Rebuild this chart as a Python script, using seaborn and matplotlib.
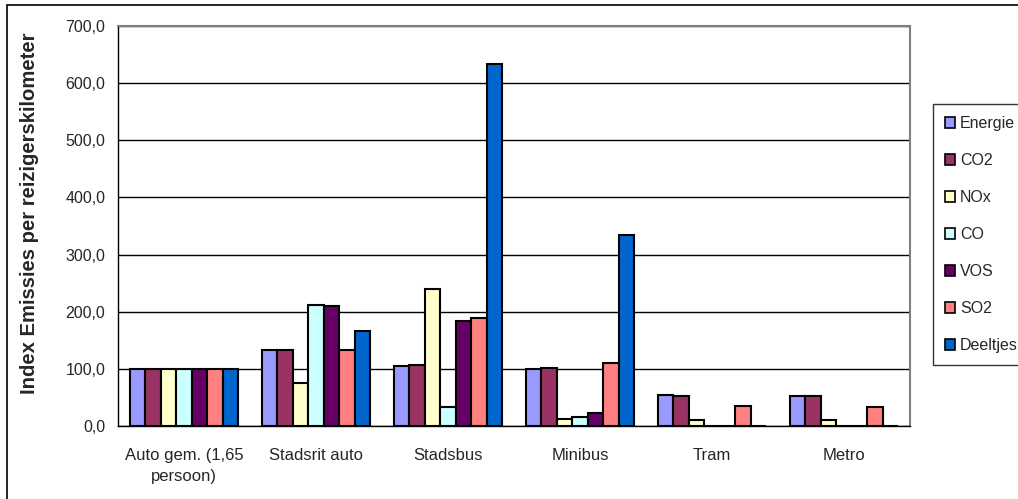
import matplotlib
matplotlib.use("Agg")
import matplotlib.pyplot as plt
from matplotlib.patches import Patch, Rectangle
from matplotlib.ticker import FuncFormatter, FixedLocator
import numpy as np
import pandas as pd
import seaborn as sns

# Vervoerswijzen en emissie-indices (auto = 100)
categories = ["Auto gem. (1,65\npersoon)", "Stadsrit auto", "Stadsbus", "Minibus", "Tram", "Metro"]
series = ["Energie", "CO2", "NOx", "CO", "VOS", "SO2", "Deeltjes"]

energie = [100, 133, 105, 100, 54, 53]
co2 = [100, 133, 107, 102, 53, 53]
nox = [100, 76, 240, 12, 10, 10]
co = [100, 212, 33, 16, 0, 0]
vos = [100, 210, 184, 23, 0, 0]
so2 = [100, 133, 189, 111, 35, 34]
deeltjes = [100, 167, 634, 334, 0, 0]

colors = ["#9999FF", "#993366", "#FFFFCC", "#CCFFFF", "#660066", "#FF8080", "#0066CC"]

values = [energie, co2, nox, co, vos, so2, deeltjes]
df = pd.DataFrame(
    [(cat, s, v[i]) for s, v in zip(series, values) for i, cat in enumerate(categories)],
    columns=["categorie", "stof", "index"],
)

sns.set_style("white")
plt.rcParams["font.family"] = ["Liberation Sans", "DejaVu Sans"]

fig = plt.figure(figsize=(10.18, 4.99), dpi=100)
ax = fig.add_axes([118 / 1018, 1 - 426 / 499, 792 / 1018, 400 / 499])

sns.barplot(
    data=df, x="categorie", y="index", hue="stof",
    order=categories, hue_order=series, palette=colors,
    width=0.82, edgecolor="black", linewidth=1.5, saturation=1,
    legend=False, ax=ax, zorder=3,
)

ax.set_ylim(0, 700)
ax.set_xlim(-0.5, len(categories) - 0.5)
ax.yaxis.set_major_locator(FixedLocator(np.arange(0, 701, 100)))
ax.yaxis.set_major_formatter(FuncFormatter(lambda v, p: f"{v:.1f}".replace(".", ",")))
ax.grid(axis="y", color="black", linewidth=1, zorder=0)
ax.set_axisbelow(True)

ax.set_xlabel("")
ax.set_ylabel("Index Emissies per reizigerskilometer", fontsize=14.6, fontweight="bold")
ax.yaxis.set_label_coords((39 - 118) / 792, (426 - 213.5) / 400)

# category labels without ticks, tick marks between the groups
ax.set_xticks(range(len(categories)))
ax.set_xticklabels(categories, fontsize=12, linespacing=1.45)
ax.set_xticks(np.arange(-0.5, len(categories), 1.0), minor=True)
ax.tick_params(axis="x", which="major", length=0, pad=16)
ax.tick_params(axis="x", which="minor", length=5, width=1, color="black", direction="out")
ax.tick_params(axis="y", length=6, width=1, color="black", direction="out", labelsize=11.5, pad=3)

for side in ["left", "bottom"]:
    ax.spines[side].set_color("black")
    ax.spines[side].set_linewidth(1)
for side in ["top", "right"]:
    ax.spines[side].set_color("#808080")
    ax.spines[side].set_linewidth(1.5)

handles = [Patch(facecolor=c, edgecolor="black", linewidth=1.2) for c in colors]
leg = fig.legend(
    handles, series, loc="upper left",
    bbox_to_anchor=(933 / 1018, 1 - 104 / 499),
    bbox_transform=fig.transFigure,
    fontsize=11.5, frameon=True, fancybox=False, shadow=False,
    handlelength=0.65, handleheight=0.65, handletextpad=0.3,
    labelspacing=1.38, borderpad=0.75, borderaxespad=0,
)
leg.get_frame().set_edgecolor("black")
leg.get_frame().set_linewidth(1)

# chart border
fig.patches.append(Rectangle((7 / 1018, -0.1), 1.2, 1 - 5 / 499 + 0.1,
                             transform=fig.transFigure, fill=False,
                             edgecolor="black", linewidth=1.2, zorder=-1))

fig.savefig("out.png", dpi=100)
